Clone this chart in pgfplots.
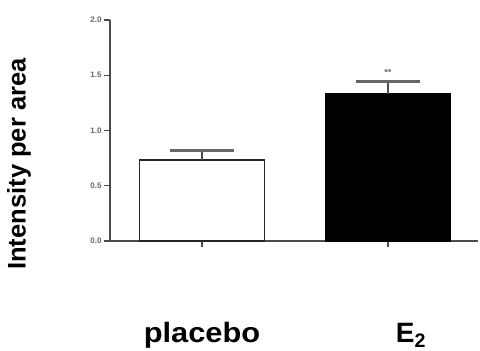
\documentclass[border=0pt]{standalone}
\usepackage{fontspec}
\setmainfont{Liberation Sans}
\usepackage{pgfplots}
\pgfplotsset{compat=1.18}
\begin{document}
\begin{tikzpicture}[x=1pt,y=1pt]
\useasboundingbox (0,0) rectangle (480,351);
\begin{axis}[
  at={(110pt,110pt)}, anchor=south west,
  scale only axis, width=368pt, height=221pt,
  xmin=-0.495, xmax=1.484, ymin=0, ymax=2.0,
  axis x line=bottom, axis y line=left,
  axis line style={draw=black!70, line width=1.6pt, -},
  xtick={0,1}, xticklabels={,},
  ytick={0,0.5,1.0,1.5,2.0},
  yticklabels={0.0,0.5,1.0,1.5,2.0},
  tick align=outside, major tick length=6pt,
  tick style={draw=black!70, line width=1.4pt},
  yticklabel style={font=\bfseries\fontsize{8}{9}\selectfont, text=black!60, xshift=1pt},
  /pgf/number format/assume math mode=true,
  ylabel={Intensity per area},
  every axis y label/.style={at={(axis description cs:-0.247,0.348)}, rotate=90, anchor=center, font=\bfseries\fontsize{25.5}{28}\selectfont},
  clip=false,
]
\addplot[ybar, bar width=125pt, fill=white, draw=black!85, line width=1.6pt,
  error bars/.cd, y dir=plus, y explicit,
  error bar style={draw=black!70, line width=2.6pt},
  error mark options={rotate=90, mark size=32pt, line width=2.4pt, draw=black!60}]
  coordinates {(0,0.735) +- (0,0.085)};
\addplot[ybar, bar width=125pt, fill=black, draw=black, line width=1.6pt,
  error bars/.cd, y dir=plus, y explicit,
  error bar style={draw=black!70, line width=2.6pt},
  error mark options={rotate=90, mark size=32pt, line width=2.4pt, draw=black!60}]
  coordinates {(1,1.33) +- (0,0.115)};
\node[font=\bfseries\fontsize{9}{9}\selectfont, text=black!60] at (axis cs:1,1.525) {**};
\node[anchor=base, xscale=1.1, font=\bfseries\fontsize{28}{30}\selectfont] at ([yshift=-101pt]axis cs:0,0) {placebo};
\node[anchor=base, font=\bfseries\fontsize{28}{30}\selectfont] at ([xshift=23pt,yshift=-101pt]axis cs:1,0) {E$_{\mathbf{2}}$};
\end{axis}
\end{tikzpicture}
\end{document}
